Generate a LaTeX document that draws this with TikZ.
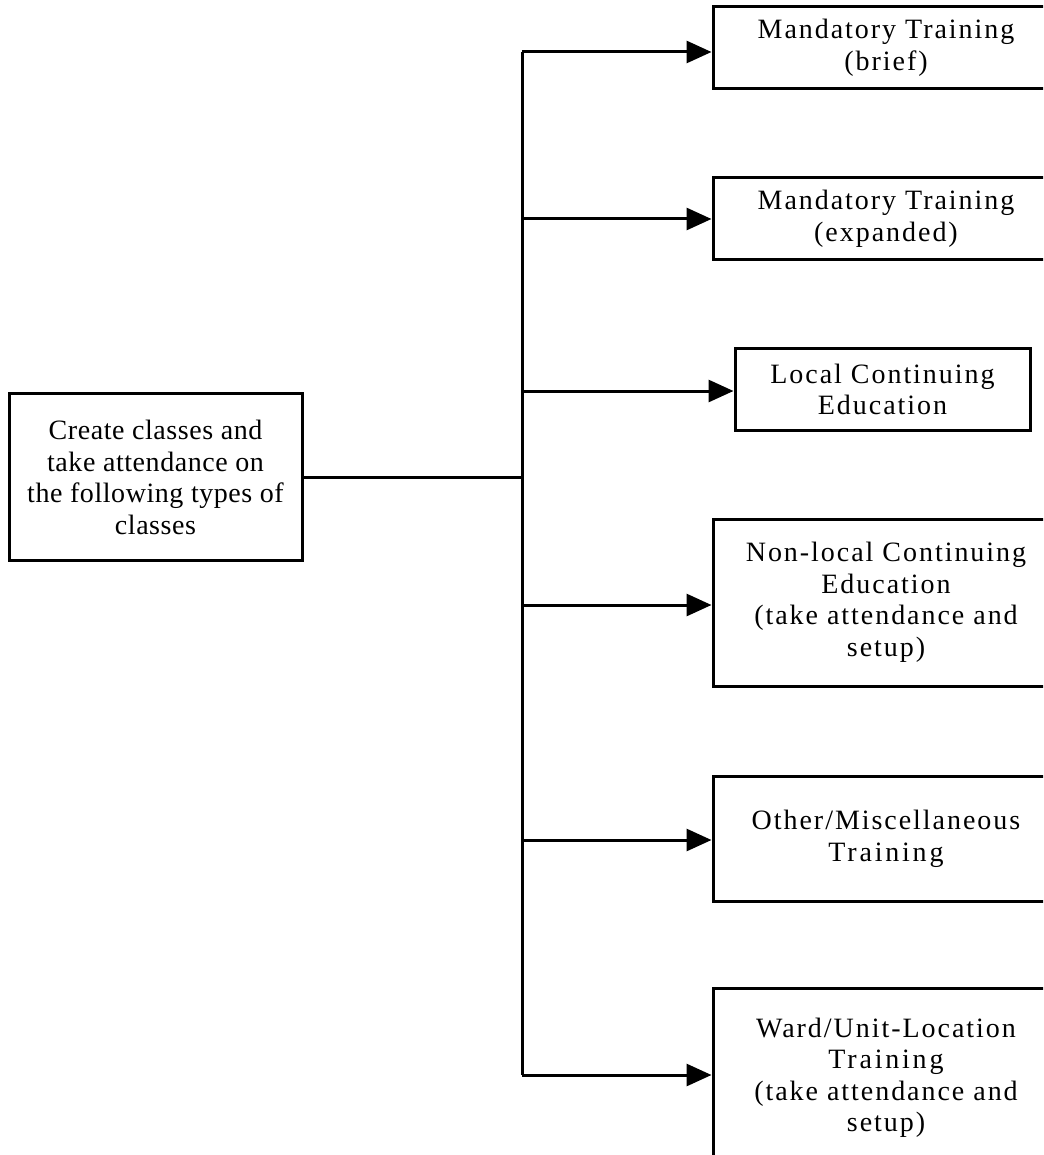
\documentclass[tikz,border=0pt]{standalone}
\usepackage{fontspec}
\setmainfont{Liberation Serif}
\newfontfamily\boxfont[LetterSpace=7]{Liberation Serif}
\newfontfamily\rootfont[LetterSpace=2]{Liberation Serif}
\usetikzlibrary{arrows.meta}
\begin{document}
\begin{tikzpicture}[x=1pt,y=-1pt,
  box/.style={draw=black,line width=3pt,align=center,inner sep=0pt,
    font=\boxfont\fontsize{28}{31.5}\selectfont},
  rootbox/.style={box,font=\rootfont\fontsize{28}{31.5}\selectfont},
  conn/.style={line width=3pt},
  arr/.style={conn,-{Triangle[length=25pt,width=22pt]}}]
\useasboundingbox (0,0) rectangle (1043,1155);
\clip (0,0) rectangle (1043,1155);
\node[rootbox,minimum width=293pt,minimum height=167pt] (root) at (155.5,476.5)
  {\\[-10pt]Create classes and\\take attendance on\\the following types of\\classes};
\node[box,minimum width=346pt,minimum height=82pt] (b1) at (886,48)
  {Mandatory Training\\(brief)};
\node[box,minimum width=346pt,minimum height=82pt] (b2) at (886,219)
  {Mandatory Training\\(expanded)};
\node[box,minimum width=295pt,minimum height=82pt] (b3) at (882.5,389.5)
  {Local Continuing\\Education};
\node[box,minimum width=346pt,minimum height=167pt] (b4) at (886,602.5)
  {Non-local Continuing\\Education\\(take attendance and\\setup)};
\node[box,minimum width=346pt,minimum height=125pt] (b5) at (886,839)
  {Other/Miscellaneous\\{\addfontfeature{LetterSpace=10}Training}};
\node[box,minimum width=346pt,minimum height=180pt] (b6) at (886,1078)
  {Ward/Unit-Location\\{\addfontfeature{LetterSpace=10}Training}\\(take attendance and\\setup)};
\coordinate (s1) at (522,52);
\coordinate (s2) at (522,219);
\coordinate (s3) at (522,391);
\coordinate (s4) at (522,605);
\coordinate (s5) at (522,840);
\coordinate (s6) at (522,1075);
\coordinate (sm) at (522,477);
\draw[conn] (s1) -- (s6);
\draw[conn] (root.east |- sm) -- (sm);
\draw[arr] (s1) -- (s1 -| b1.west);
\draw[arr] (s2) -- (s2 -| b2.west);
\draw[arr] (s3) -- (s3 -| b3.west);
\draw[arr] (s4) -- (s4 -| b4.west);
\draw[arr] (s5) -- (s5 -| b5.west);
\draw[arr] (s6) -- (s6 -| b6.west);
\end{tikzpicture}
\end{document}
